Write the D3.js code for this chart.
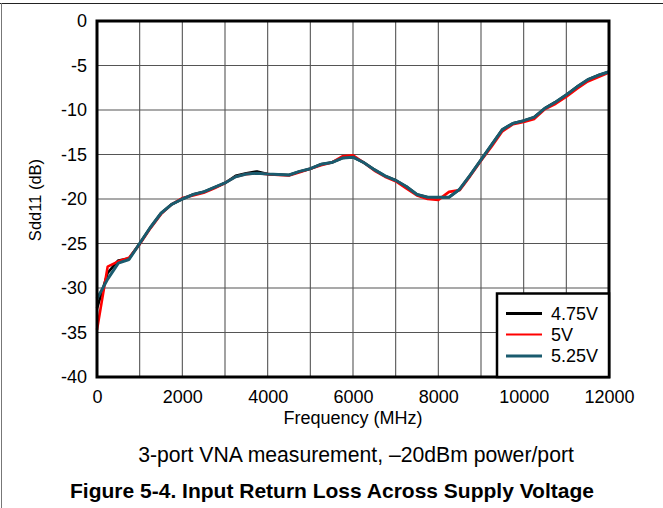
<!DOCTYPE html>
<html><head><meta charset="utf-8">
<script src="https://cdn.jsdelivr.net/npm/d3@7"></script>
<style>body{margin:0;background:#fff}svg{display:block}text{font-family:"Liberation Sans",Arial,sans-serif}</style>
</head><body><div id="c"></div>
<script>
const freq = [0,250,500,750,1000,1250,1500,1750,2000,2250,2500,2750,3000,3250,3500,3750,4000,4250,4500,4750,5000,5250,5500,5750,6000,6250,6500,6750,7000,7250,7500,7750,8000,8250,8500,8750,9000,9250,9500,9750,10000,10250,10500,10750,11000,11250,11500,11750,12000];
const v475 = [-32.3,-28.3,-26.9,-26.7,-25.0,-23.2,-21.6,-20.6,-20.0,-19.5,-19.2,-18.7,-18.2,-17.4,-17.1,-16.9,-17.2,-17.25,-17.3,-16.9,-16.6,-16.1,-15.9,-15.4,-15.3,-15.9,-16.7,-17.4,-17.9,-18.6,-19.5,-19.8,-19.8,-19.8,-18.9,-17.3,-15.6,-13.9,-12.2,-11.5,-11.2,-10.8,-9.8,-9.1,-8.3,-7.4,-6.6,-6.1,-5.7];
const v500 = [-34.7,-27.6,-27.0,-26.6,-25.1,-23.3,-21.7,-20.6,-19.9,-19.6,-19.3,-18.8,-18.2,-17.5,-17.2,-17.1,-17.2,-17.3,-17.35,-17.0,-16.6,-16.2,-15.9,-15.2,-15.1,-15.9,-16.8,-17.5,-18.0,-18.8,-19.6,-20.0,-20.1,-19.2,-19.0,-17.4,-15.7,-14.1,-12.4,-11.6,-11.35,-11.0,-9.9,-9.3,-8.5,-7.6,-6.8,-6.3,-5.8];
const v525 = [-31.2,-29.0,-27.2,-26.8,-25.0,-23.2,-21.6,-20.6,-20.0,-19.5,-19.2,-18.7,-18.2,-17.5,-17.2,-17.1,-17.2,-17.25,-17.3,-16.9,-16.6,-16.1,-15.9,-15.4,-15.3,-15.9,-16.7,-17.4,-17.9,-18.6,-19.5,-19.8,-19.8,-19.8,-18.9,-17.3,-15.6,-13.9,-12.2,-11.5,-11.2,-10.8,-9.8,-9.1,-8.3,-7.4,-6.6,-6.1,-5.7];
const seriesNames = ["4.75V","5V","5.25V"];
const seriesColors = ["#000000","#ff0000","#1a5b6e"];
const xTicks = [0,2000,4000,6000,8000,10000,12000];
const yTicks = [0,-5,-10,-15,-20,-25,-30,-35,-40];
const xLabel = "Frequency (MHz)";
const yLabel = "Sdd11 (dB)";
const subtitle = "3-port VNA measurement, \u201320dBm power/port";
const title = "Figure 5-4. Input Return Loss Across Supply Voltage";

const W=663,H=508;
const L=97,R=609,T=21,B=377;
const svg=d3.select("#c").append("svg").attr("width",W).attr("height",H);
svg.append("line").attr("x1",0).attr("x2",W).attr("y1",3.5).attr("y2",3.5).attr("stroke","#222").attr("stroke-width",1);
svg.append("line").attr("x1",1.5).attr("x2",1.5).attr("y1",3).attr("y2",H).attr("stroke","#777").attr("stroke-width",1);

const x=d3.scaleLinear().domain([0,12000]).range([L,R]);
const y=d3.scaleLinear().domain([-40,0]).range([B,T]);
const fmt=d=>String(d);

const g=svg.append("g");
g.selectAll(".vg").data(d3.range(1000,12000,1000)).join("line")
 .attr("x1",d=>x(d)).attr("x2",d=>x(d)).attr("y1",T).attr("y2",B).attr("stroke","#555").attr("stroke-width",1.1);
g.selectAll(".hg").data(d3.range(-35,0,5)).join("line")
 .attr("y1",d=>y(d)).attr("y2",d=>y(d)).attr("x1",L).attr("x2",R).attr("stroke","#555").attr("stroke-width",1.1);

const xa=svg.append("g").attr("transform",`translate(0,${B})`).call(d3.axisBottom(x).tickValues(xTicks).tickSize(0).tickPadding(13).tickFormat(fmt));
xa.select(".domain").remove();
xa.selectAll("text").attr("font-size",18).attr("fill","#000").style("font-family","Liberation Sans, Arial, sans-serif");
const ya=svg.append("g").attr("transform",`translate(${L},0)`).call(d3.axisLeft(y).tickValues(yTicks).tickSize(0).tickPadding(10).tickFormat(fmt));
ya.select(".domain").remove();
ya.selectAll("text").attr("font-size",18).attr("fill","#000").style("font-family","Liberation Sans, Arial, sans-serif");

const line=d3.line().x((d,i)=>x(freq[i])).y(d=>y(d));
const data=[v475,v500,v525];
const widths=[2.6,2.6,3];
data.forEach((s,i)=>{
  svg.append("path").datum(s).attr("d",line).attr("fill","none").attr("stroke",seriesColors[i]).attr("stroke-width",widths[i]).attr("stroke-linejoin","round");
});

svg.append("rect").attr("x",L).attr("y",T).attr("width",R-L).attr("height",B-T).attr("fill","none").attr("stroke","#000").attr("stroke-width",3);

const lg=svg.append("g");
lg.append("rect").attr("x",497).attr("y",293.5).attr("width",R-497).attr("height",B-293.5).attr("fill","#fff").attr("stroke","#000").attr("stroke-width",2.5);
const rowY=[313.5,334.5,356];
seriesNames.forEach((n,i)=>{
  lg.append("line").attr("x1",506).attr("x2",542).attr("y1",rowY[i]).attr("y2",rowY[i]).attr("stroke",seriesColors[i]).attr("stroke-width",i==1?2:3);
  lg.append("text").attr("x",551).attr("y",rowY[i]).attr("dy","0.36em").attr("font-size",18).text(n);
});

svg.append("text").attr("x",353).attr("y",424).attr("text-anchor","middle").attr("font-size",18).text(xLabel);
svg.append("text").attr("transform","translate(41,200) rotate(-90)").attr("text-anchor","middle").attr("font-size",16.5).text(yLabel);
svg.append("text").attr("x",356).attr("y",462).attr("text-anchor","middle").attr("font-size",21.2).text(subtitle);
svg.append("text").attr("x",332).attr("y",498).attr("text-anchor","middle").attr("font-size",21).attr("font-weight","bold").text(title);
</script></body></html>
